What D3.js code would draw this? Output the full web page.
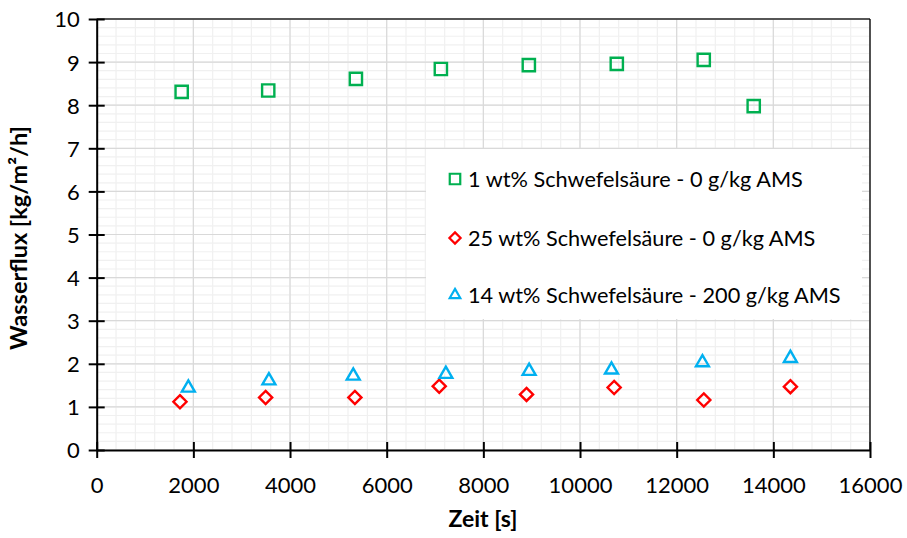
<!DOCTYPE html>
<html><head><meta charset="utf-8">
<script src="https://cdn.jsdelivr.net/npm/d3@7"></script>
<style>body{margin:0;background:#fff}svg{display:block}text{font-family:Lato,'Open Sans',sans-serif;fill:#000}</style>
</head><body><svg id="c" width="907" height="538"></svg>
<script>
const seriesNames = ["1 wt% Schwefelsäure - 0 g/kg AMS","25 wt% Schwefelsäure - 0 g/kg AMS","14 wt% Schwefelsäure - 200 g/kg AMS"];
const greenX = [1758,3549,5363,7121,8941,10761,12560,13594];
const greenY = [8.31,8.34,8.61,8.84,8.93,8.96,9.05,7.98];
const redX = [1723,3495,5342,7087,8893,10706,12561,14353];
const redY = [1.12,1.22,1.22,1.48,1.29,1.45,1.16,1.47];
const blueX = [1896,3563,5308,7224,8947,10651,12533,14353];
const blueY = [1.44,1.61,1.72,1.76,1.83,1.86,2.03,2.13];
const xTicks = [0,2000,4000,6000,8000,10000,12000,14000,16000];
const yTicks = [0,1,2,3,4,5,6,7,8,9,10];
const xTitle = "Zeit [s]";
const yTitle = "Wasserflux [kg/m²/h]";

const svg = d3.select("#c");
const x = d3.scaleLinear().domain([0,16000]).range([96.7,870]);
const y = d3.scaleLinear().domain([0,10]).range([450,19]);

// minor grid
const g = svg.append("g");
g.selectAll(".mx").data(d3.range(0,16001,400)).join("line")
 .attr("x1",d=>x(d)).attr("x2",d=>x(d)).attr("y1",y(0)).attr("y2",y(10))
 .attr("stroke","#f0f0f0").attr("stroke-width",1.2);
g.selectAll(".my").data(d3.range(0,50.1,1).map(d=>d/5)).join("line")
 .attr("y1",d=>y(d)).attr("y2",d=>y(d)).attr("x1",x(0)).attr("x2",x(16000))
 .attr("stroke","#f0f0f0").attr("stroke-width",1.2);
// major grid
g.selectAll(".Mx").data(xTicks).join("line")
 .attr("x1",d=>x(d)).attr("x2",d=>x(d)).attr("y1",y(0)).attr("y2",y(10))
 .attr("stroke","#d9d9d9").attr("stroke-width",1.2);
g.selectAll(".My").data(yTicks).join("line")
 .attr("y1",d=>y(d)).attr("y2",d=>y(d)).attr("x1",x(0)).attr("x2",x(16000))
 .attr("stroke","#d9d9d9").attr("stroke-width",1.2);

// border top/right
svg.append("line").attr("x1",x(0)).attr("x2",x(16000)).attr("y1",y(10)).attr("y2",y(10)).attr("stroke","#262626").attr("stroke-width",1.3);
svg.append("line").attr("x1",x(16000)).attr("x2",x(16000)).attr("y1",y(10)).attr("y2",y(0)).attr("stroke","#000").attr("stroke-width",1.3);

const F = "Lato,'Open Sans',sans-serif";
// axes
const xa = svg.append("g").attr("transform",`translate(0,${y(0)})`)
 .call(d3.axisBottom(x).tickValues(xTicks).tickSize(0).tickPadding(0).tickFormat(d3.format("d")));
xa.select(".domain").attr("stroke","#000").attr("stroke-width",2);
xa.selectAll(".tick line").attr("y1",-8).attr("y2",8).attr("stroke","#000").attr("stroke-width",2);
xa.selectAll(".tick text").attr("y",43).attr("font-size",22).attr("dy",0).attr("font-family",F).attr("fill","#000");

const ya = svg.append("g").attr("transform",`translate(${x(0)},0)`)
 .call(d3.axisLeft(y).tickValues(yTicks).tickSize(0).tickPadding(0));
ya.select(".domain").attr("stroke","#000").attr("stroke-width",2);
ya.selectAll(".tick line").attr("x1",-8).attr("x2",8).attr("stroke","#000").attr("stroke-width",2);
ya.selectAll(".tick text").attr("x",-17).attr("dy","0.36em").attr("font-size",22).attr("font-family",F).attr("fill","#000");

// titles
svg.append("text").attr("x",483).attr("y",527).attr("text-anchor","middle").attr("font-weight","bold").attr("font-size",23).text(xTitle);
svg.append("text").attr("transform","translate(27,238) rotate(-90)").attr("text-anchor","middle").attr("font-weight","bold").attr("font-size",23.5).text(yTitle);

// markers
const sq = d3.symbol().type(d3.symbolSquare).size(150);
const di = d3.symbol().type(d3.symbolDiamond2).size(110);
const tr = d3.symbol().type(d3.symbolTriangle2).size(120);
function plot(xs,ys,sym,col){
  svg.append("g").selectAll("path").data(xs.map((v,i)=>[v,ys[i]])).join("path")
   .attr("d",sym).attr("transform",d=>`translate(${x(d[0])},${y(d[1])})`)
   .attr("fill","none").attr("stroke",col).attr("stroke-width",2.4);
}
plot(greenX,greenY,sq,"#00b050");
plot(redX,redY,di,"#ff0000");
plot(blueX,blueY,tr,"#00b0f0");

// legend
const lg = svg.append("g");
lg.append("rect").attr("x",426).attr("y",149).attr("width",436).attr("height",170).attr("fill","#fff");
const ly = [179,238,295];
const syms=[d3.symbol().type(d3.symbolSquare).size(110),d3.symbol().type(d3.symbolDiamond2).size(80),d3.symbol().type(d3.symbolTriangle2).size(80)];
const cols=["#00b050","#ff0000","#00b0f0"];
seriesNames.forEach((n,i)=>{
  lg.append("path").attr("d",syms[i]).attr("transform",`translate(455,${ly[i]})`).attr("fill","none").attr("stroke",cols[i]).attr("stroke-width",2.2);
  lg.append("text").attr("x",468).attr("y",ly[i]).attr("dy","0.36em").attr("font-size",21.7).text(n);
});
</script></body></html>
